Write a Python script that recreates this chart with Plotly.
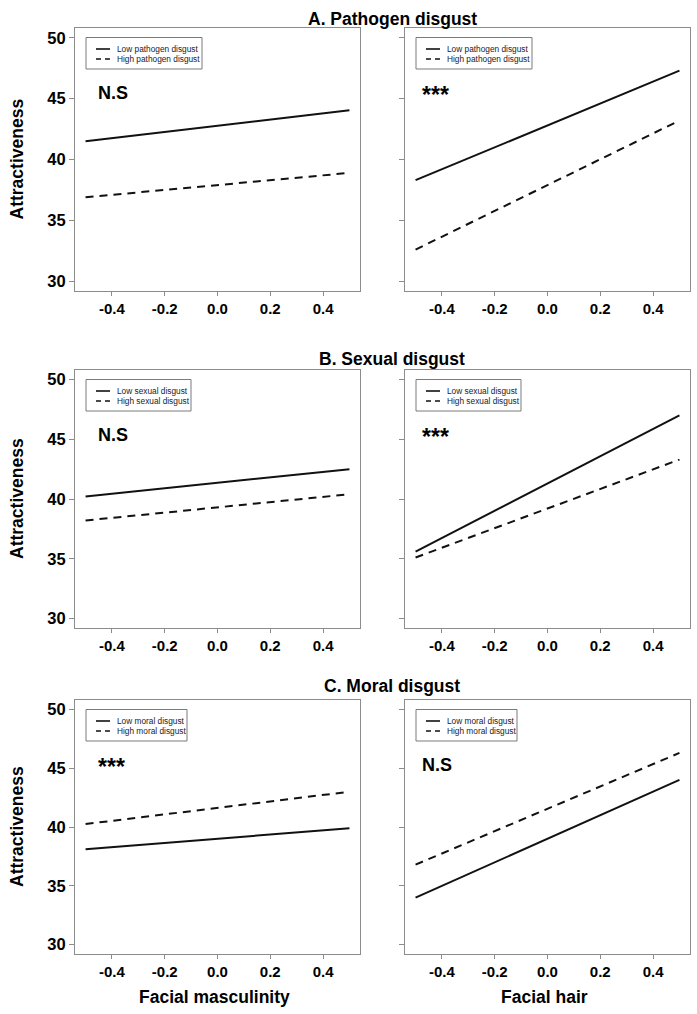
import plotly.graph_objects as go

# ---------------- data ----------------
x_vals = [-0.5, 0.5]

row_titles = ["A. Pathogen disgust", "B. Sexual disgust", "C. Moral disgust"]
low_names = ["Low pathogen disgust", "Low sexual disgust", "Low moral disgust"]
high_names = ["High pathogen disgust", "High sexual disgust", "High moral disgust"]
x_titles = ["Facial masculinity", "Facial hair"]
y_title = "Attractiveness"

# low / high series per panel: (row, col) order A-mas, A-hair, B-mas, B-hair, C-mas, C-hair
A_mas_low = [41.5, 44.05]
A_mas_high = [36.9, 38.9]
A_hair_low = [38.3, 47.3]
A_hair_high = [32.6, 43.2]
B_mas_low = [40.2, 42.5]
B_mas_high = [38.2, 40.4]
B_hair_low = [35.6, 47.0]
B_hair_high = [35.1, 43.3]
C_mas_low = [38.1, 39.9]
C_mas_high = [40.25, 43.0]
C_hair_low = [34.0, 44.0]
C_hair_high = [36.8, 46.3]

sig_labels = ["N.S", "***", "N.S", "***", "***", "N.S"]

x_ticks = [-0.4, -0.2, 0.0, 0.2, 0.4]
x_tick_labels = ["-0.4", "-0.2", "0.0", "0.2", "0.4"]
y_ticks = [30, 35, 40, 45, 50]
y_tick_labels = ["30", "35", "40", "45", "50"]

lows = [A_mas_low, A_hair_low, B_mas_low, B_hair_low, C_mas_low, C_hair_low]
highs = [A_mas_high, A_hair_high, B_mas_high, B_hair_high, C_mas_high, C_hair_high]

# ---------------- layout geometry (pixels) ----------------
W, H = 697, 1014
col_px = [(75, 360), (405, 690)]
row_px = [(28, 291), (370, 628), (700, 954)]
title_y_px = [19, 359, 686]
legend_w_px = [116, 105, 101]

FONT = "Liberation Sans, Arial, Helvetica, sans-serif"
FRAME = "#8c8c8c"

fig = go.Figure()
layout = dict(
    width=W, height=H,
    margin=dict(l=0, r=0, t=0, b=0),
    paper_bgcolor="white", plot_bgcolor="white",
    showlegend=False,
    font=dict(family=FONT, color="black"),
)
shapes = []
annotations = []

for i in range(6):
    r, c = divmod(i, 2)
    n = i + 1
    sfx = "" if n == 1 else str(n)
    x0, x1 = col_px[c]
    y0, y1 = row_px[r]
    pw, ph = x1 - x0, y1 - y0

    layout["xaxis" + sfx] = dict(
        domain=[x0 / W, x1 / W], anchor="y" + sfx,
        range=[-0.54, 0.54], tickvals=x_ticks, ticktext=x_tick_labels,
        showline=True, mirror=True, linecolor=FRAME, linewidth=1,
        ticks="outside", ticklen=4, tickcolor=FRAME,
        showgrid=False, zeroline=False, fixedrange=True,
        tickfont=dict(family=FONT, size=15, weight="bold", color="black"),
    )
    layout["yaxis" + sfx] = dict(
        domain=[1 - y1 / H, 1 - y0 / H], anchor="x" + sfx,
        range=[29.2, 50.8], tickvals=y_ticks, ticktext=y_tick_labels,
        showticklabels=(c == 0),
        showline=True, mirror=True, linecolor=FRAME, linewidth=1,
        ticks="outside", ticklen=5, tickcolor=FRAME,
        showgrid=False, zeroline=False, fixedrange=True,
        tickfont=dict(family=FONT, size=16.5, weight="bold", color="black"),
    )

    fig.add_trace(go.Scatter(x=x_vals, y=lows[i], mode="lines",
                             line=dict(color="#111111", width=2),
                             xaxis="x" + sfx, yaxis="y" + sfx, name=low_names[r]))
    fig.add_trace(go.Scatter(x=x_vals, y=highs[i], mode="lines",
                             line=dict(color="#111111", width=2, dash="8px,6px"),
                             xaxis="x" + sfx, yaxis="y" + sfx, name=high_names[r]))

    xr, yr = "x" + sfx + " domain", "y" + sfx + " domain"

    def dx(p):
        return p / pw

    def dy(p):
        return 1 - p / ph

    # legend box
    lw = legend_w_px[r]
    shapes.append(dict(type="rect", xref=xr, yref=yr,
                       x0=dx(11), x1=dx(11 + lw), y0=dy(9.5), y1=dy(41),
                       line=dict(color="#7a7a7a", width=1), fillcolor="white"))
    for k, (ypix, dash, txt) in enumerate([(21, "solid", low_names[r]),
                                            (31, "5px,4px", high_names[r])]):
        shapes.append(dict(type="line", xref=xr, yref=yr,
                           x0=dx(21), x1=dx(35), y0=dy(ypix), y1=dy(ypix),
                           line=dict(color="#111111", width=1.6, dash=dash)))
        annotations.append(dict(xref=xr, yref=yr, x=dx(40), y=dy(ypix),
                                text=txt, showarrow=False, xanchor="left",
                                yanchor="middle",
                                font=dict(family=FONT, size=8.3, color="#222222")))
    # significance label
    sx = 20.5 if c == 0 else 15
    is_star = sig_labels[i].startswith("*")
    annotations.append(dict(xref=xr, yref=yr, x=dx(sx), y=dy(67 if is_star else 65),
                            text=sig_labels[i], showarrow=False, xanchor="left",
                            yanchor="middle",
                            font=dict(family=FONT, size=23 if is_star else 18,
                                      weight="bold", color="black")))

    # y axis title (left column)
    if c == 0:
        annotations.append(dict(xref="paper", yref="paper", x=17 / W,
                                y=1 - (y0 + y1) / 2 / H, text=y_title,
                                textangle=-90, showarrow=False,
                                xanchor="center", yanchor="middle",
                                font=dict(family=FONT, size=17.5, weight="bold")))
    # x axis titles (bottom row)
    if r == 2:
        annotations.append(dict(xref="paper", yref="paper", x=(x0 + x1) / 2 / W - 3 / W,
                                y=1 - 997 / H, text=x_titles[c], showarrow=False,
                                xanchor="center", yanchor="middle",
                                font=dict(family=FONT, size=17.5, weight="bold")))

for r in range(3):
    annotations.append(dict(xref="paper", yref="paper", x=392 / W,
                            y=1 - title_y_px[r] / H, text=row_titles[r],
                            showarrow=False, xanchor="center", yanchor="middle",
                            font=dict(family=FONT, size=17.5, weight="bold")))

layout["shapes"] = shapes
layout["annotations"] = annotations
fig.update_layout(**layout)
fig.write_html("out.html",
               config={"displayModeBar": False},
               post_script="document.body.style.margin='0';document.body.style.overflow='hidden';")
